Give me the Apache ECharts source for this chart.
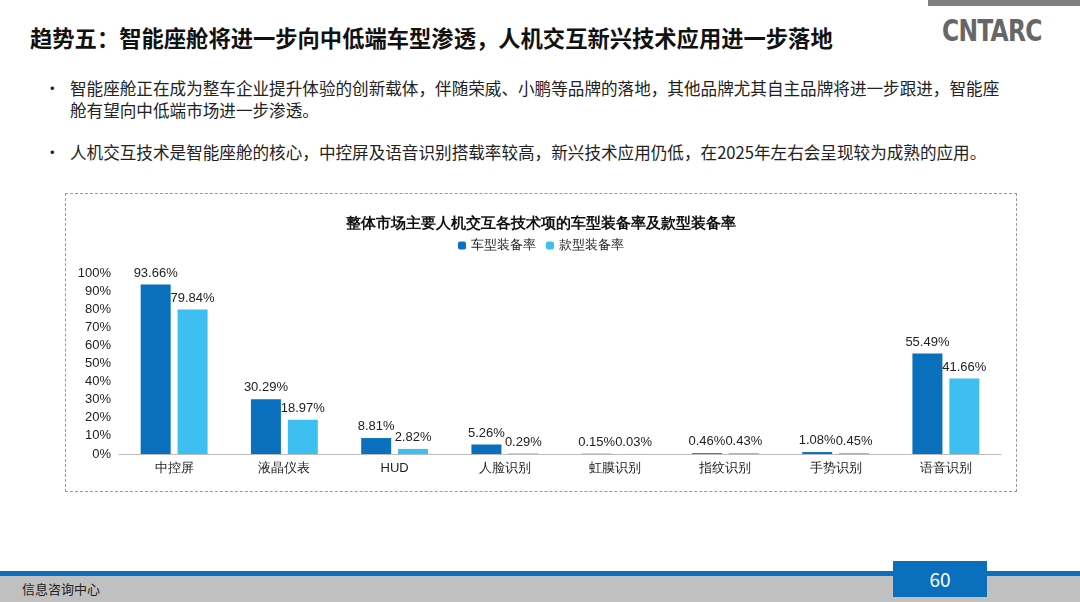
<!DOCTYPE html>
<html><head><meta charset="utf-8">
<script src="https://cdn.jsdelivr.net/npm/echarts@6/dist/echarts.min.js"></script>
<style>
body{margin:0;width:1080px;height:602px;position:relative;overflow:hidden;background:#fff;font-family:"Noto Sans CJK SC","Noto Sans",sans-serif;}
#title{position:absolute;left:30px;top:21px;font-size:22.3px;font-weight:bold;color:#111;}
#topbar{position:absolute;left:928px;top:0;width:152px;height:6px;background:#808080;}
#logo{position:absolute;left:942px;top:13px;font-size:30px;font-weight:bold;color:#666;letter-spacing:-1px;font-family:"DejaVu Sans";transform:scaleX(0.78);transform-origin:left;}
.b{position:absolute;left:44px;font-size:16.6px;color:#222;line-height:22px;}
.b span{position:absolute;left:0;}
.b div{margin-left:26px;width:942px;}
#box{position:absolute;left:65px;top:193px;width:950px;height:297px;border:1px dashed #999;}
#chart{width:950px;height:297px;}
#fline{position:absolute;left:0;top:571px;width:1080px;height:5px;background:#0a70bd;}
#fband{position:absolute;left:0;top:576px;width:1080px;height:26px;background:#c0c0c0;}
#ftext{position:absolute;left:22px;top:579px;font-size:13px;color:#222;}
#pg{position:absolute;left:893px;top:561px;width:94px;height:36px;background:#0a70bd;color:#fff;font-size:19px;text-align:center;line-height:36px;}
</style></head><body>
<div id="topbar"></div>
<div id="logo">CNTARC</div>
<div id="title">趋势五：智能座舱将进一步向中低端车型渗透，人机交互新兴技术应用进一步落地</div>
<div class="b" style="top:77px"><span>•</span><div>智能座舱正在成为整车企业提升体验的创新载体，伴随荣威、小鹏等品牌的落地，其他品牌尤其自主品牌将进一步跟进，智能座舱有望向中低端市场进一步渗透。</div></div>
<div class="b" style="top:141px"><span>•</span><div>人机交互技术是智能座舱的核心，中控屏及语音识别搭载率较高，新兴技术应用仍低，在2025年左右会呈现较为成熟的应用。</div></div>
<div id="box"><div id="chart"></div></div>
<div id="fline"></div><div id="fband"></div>
<div id="ftext">信息咨询中心</div>
<div id="pg">60</div>
<script>
const categories=['中控屏','液晶仪表','HUD','人脸识别','虹膜识别','指纹识别','手势识别','语音识别'];
const modelRate=[93.66,30.29,8.81,5.26,0.15,0.46,1.08,55.49];
const styleRate=[79.84,18.97,2.82,0.29,0.03,0.43,0.45,41.66];
const c=echarts.init(document.getElementById('chart'));
const lbl={show:true,position:'top',formatter:p=>p.value.toFixed(2)+'%',fontSize:13,color:'#222'};
c.setOption({
 title:{text:'整体市场主要人机交互各技术项的车型装备率及款型装备率',left:'center',top:17,textStyle:{fontSize:15,fontWeight:'bold',color:'#111'}},
 legend:{top:40,itemWidth:8,itemHeight:8,itemGap:10,textStyle:{fontSize:13,color:'#222'},data:['车型装备率','款型装备率']},
 grid:{left:53,right:15,top:79,bottom:37},
 xAxis:{type:'category',data:categories,axisTick:{show:false},axisLine:{lineStyle:{color:'#bbb'}},axisLabel:{fontSize:13,color:'#222'}},
 yAxis:{type:'value',min:0,max:100,interval:10,axisLabel:{formatter:'{value}%',fontSize:13,color:'#222'},splitLine:{show:false},axisLine:{show:false}},
 series:[
  {name:'车型装备率',type:'bar',data:modelRate,barWidth:30,barGap:'23%',itemStyle:{color:'#0a70bd'},label:lbl},
  {name:'款型装备率',type:'bar',data:styleRate,barWidth:30,itemStyle:{color:'#3dbff2'},label:lbl}
 ]
});
</script></body></html>
